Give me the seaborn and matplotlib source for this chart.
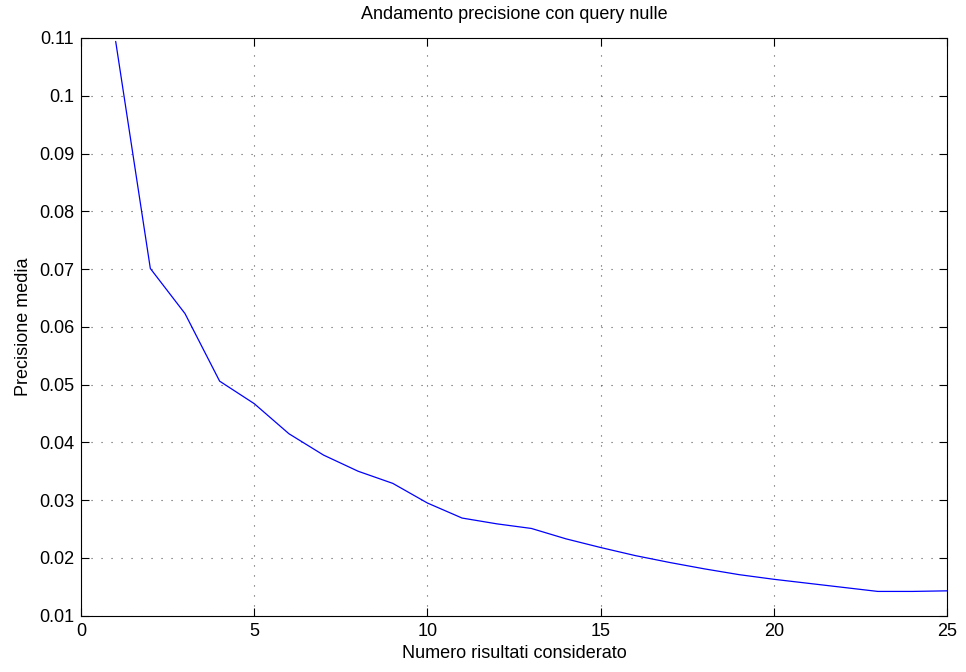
import numpy as np
import pandas as pd
import seaborn as sns
import matplotlib.pyplot as plt

# Number of results considered and the mean precision.
num_results = [1, 2, 3, 4, 5, 6, 7, 8, 9, 10, 11, 12, 13,
               14, 15, 16, 17, 18, 19, 20, 21, 22, 23, 24, 25]
mean_precision = [0.1094, 0.0701, 0.0623, 0.0506, 0.0467, 0.0415, 0.0378, 0.0350, 0.0329,
                  0.0295, 0.0269, 0.0259, 0.0251, 0.0233, 0.0218, 0.0204, 0.0192, 0.0181,
                  0.0171, 0.0163, 0.0156, 0.0149, 0.0142, 0.0142, 0.0143]

x_ticks = [0, 5, 10, 15, 20, 25]
y_ticks = [0.01, 0.02, 0.03, 0.04, 0.05, 0.06, 0.07, 0.08, 0.09, 0.1, 0.11]
y_tick_labels = ['0.01', '0.02', '0.03', '0.04', '0.05', '0.06', '0.07', '0.08', '0.09', '0.1', '0.11']

sns.set_style('ticks')
plt.rcParams['font.family'] = ['Liberation Sans', 'DejaVu Sans']
plt.rcParams['text.color'] = 'black'
plt.rcParams['axes.labelcolor'] = 'black'

df = pd.DataFrame({'x': num_results, 'y': mean_precision})

fig = plt.figure(figsize=(9.66, 6.72), dpi=100)
ax = fig.add_axes([0.0839, 0.0838, 0.8965, 0.8597])

sns.lineplot(data=df, x='x', y='y', color='#0000ff', linewidth=0.9, ax=ax)

ax.set_xlim(0, 25)
ax.set_ylim(0.01, 0.11)
ax.set_xticks(x_ticks)
ax.set_yticks(y_ticks)
ax.set_yticklabels(y_tick_labels)
ax.tick_params(direction='in', length=6, width=0.8, labelsize=13, pad=5,
               top=True, right=True, colors='black')
ax.grid(True, linestyle=(0, (1, 8)), color='#555555', linewidth=0.8)
for s in ax.spines.values():
    s.set_visible(True)
    s.set_linewidth(0.8)
    s.set_color('black')

ax.set_title('Andamento precisione con query nulle', fontsize=13, pad=14)
ax.set_xlabel('Numero risultati considerato', fontsize=13, labelpad=4)
ax.set_ylabel('Precisione media', fontsize=13, labelpad=5)

fig.savefig('out.png', dpi=100)
